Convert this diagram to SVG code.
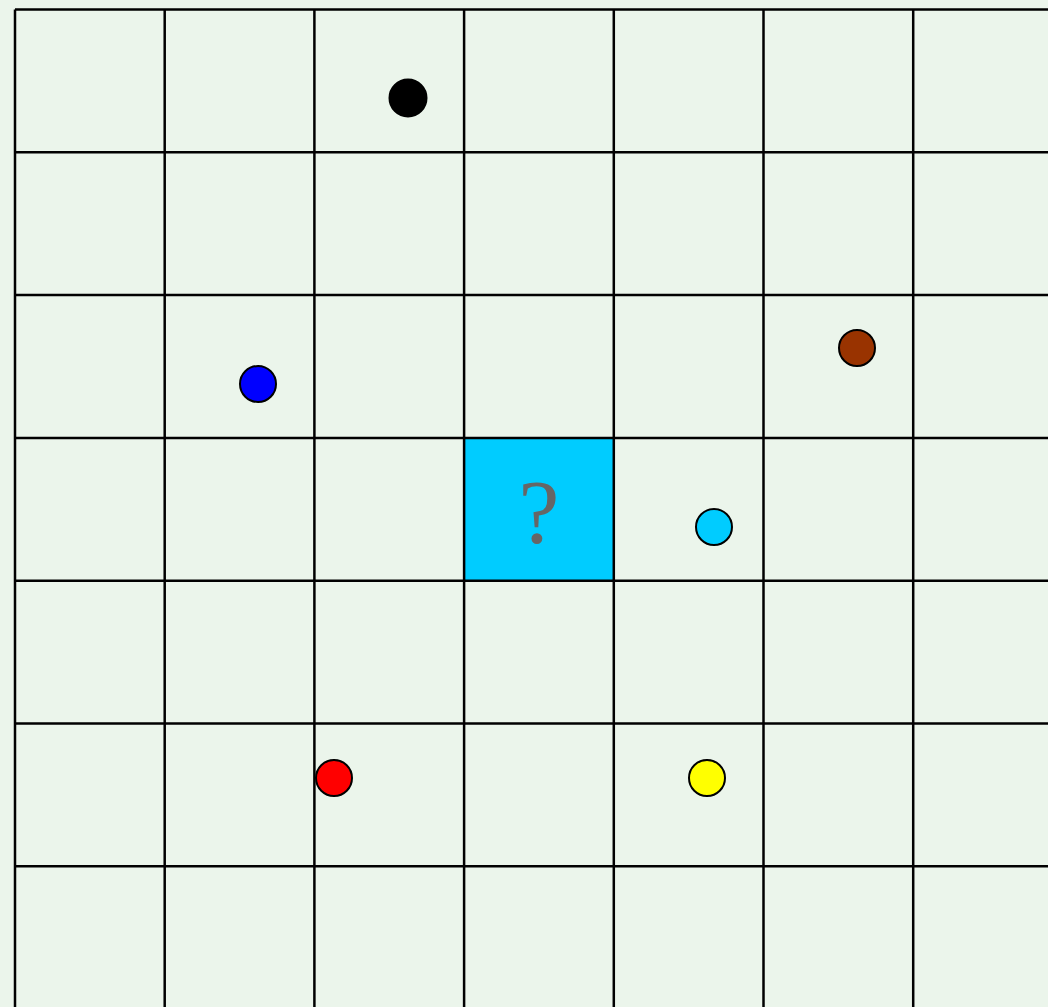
<svg xmlns="http://www.w3.org/2000/svg" width="1048" height="1007" viewBox="0 0 1048 1007">
<style>
.grid line{stroke:#000;stroke-width:2.5}
.dot{stroke:#000;stroke-width:2}
.q{font-family:"Liberation Serif","Times New Roman",serif;font-size:92px;fill:#666;text-anchor:middle}
</style>
<rect x="0" y="0" width="1048" height="1007" fill="#EBF5EB"/>
<g id="target-cell">
<rect x="464.1" y="437.9" width="149.7" height="142.8" fill="#00CCFF"/>
<text class="q" x="539" y="543">?</text>
</g>
<g id="grid" class="grid">
<line x1="15" y1="9.5" x2="15" y2="1007"/>
<line x1="164.7" y1="9.5" x2="164.7" y2="1007"/>
<line x1="314.4" y1="9.5" x2="314.4" y2="1007"/>
<line x1="464.1" y1="9.5" x2="464.1" y2="1007"/>
<line x1="613.8" y1="9.5" x2="613.8" y2="1007"/>
<line x1="763.5" y1="9.5" x2="763.5" y2="1007"/>
<line x1="913.2" y1="9.5" x2="913.2" y2="1007"/>
<line x1="15" y1="9.5" x2="1048" y2="9.5"/>
<line x1="15" y1="152.3" x2="1048" y2="152.3"/>
<line x1="15" y1="295.1" x2="1048" y2="295.1"/>
<line x1="15" y1="437.9" x2="1048" y2="437.9"/>
<line x1="15" y1="580.7" x2="1048" y2="580.7"/>
<line x1="15" y1="723.5" x2="1048" y2="723.5"/>
<line x1="15" y1="866.3" x2="1048" y2="866.3"/>
</g>
<g id="dot-black"><circle class="dot" cx="408" cy="98" r="18.5" fill="#000"/></g>
<g id="dot-blue"><circle class="dot" cx="258" cy="384" r="18" fill="#0000FF"/></g>
<g id="dot-brown"><circle class="dot" cx="857" cy="348" r="18" fill="#993300"/></g>
<g id="dot-cyan"><circle class="dot" cx="714" cy="527" r="18" fill="#00CCFF"/></g>
<g id="dot-red"><circle class="dot" cx="334" cy="778" r="18" fill="#FF0000"/></g>
<g id="dot-yellow"><circle class="dot" cx="707" cy="778" r="18" fill="#FFFF00"/></g>
</svg>
